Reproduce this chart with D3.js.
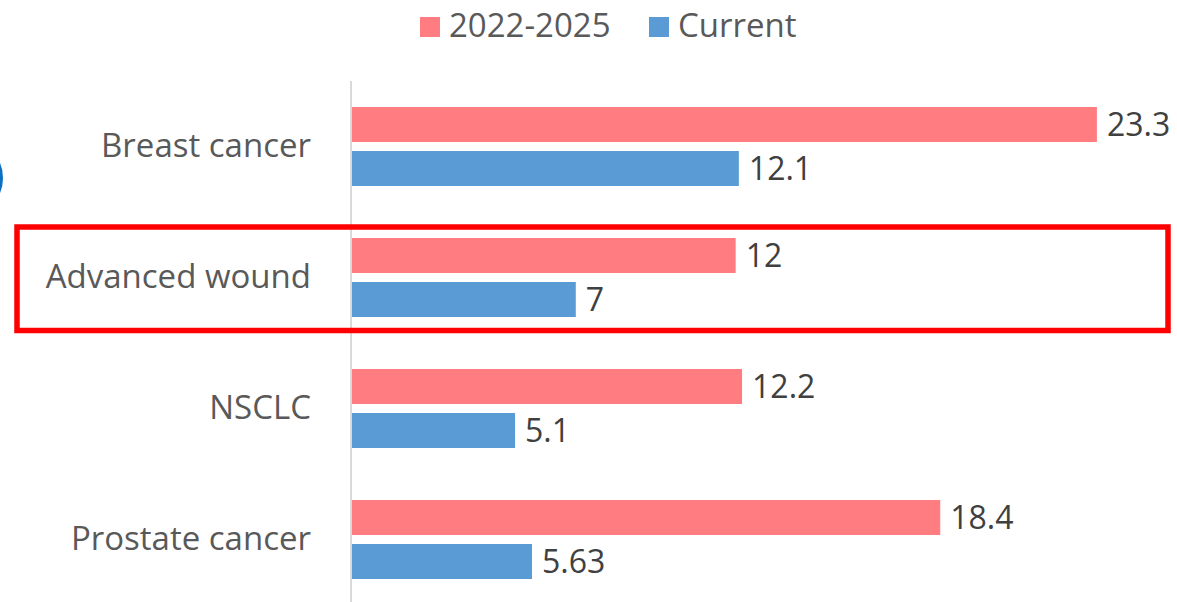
<!DOCTYPE html>
<html>
<head>
<meta charset="utf-8">
<script src="https://cdn.jsdelivr.net/npm/d3@7"></script>
<style>
  html, body { margin: 0; padding: 0; background: #fff; }
  svg { display: block; }
  text { font-family: "Open Sans", "Noto Sans", sans-serif; }
</style>
</head>
<body>
<svg id="chart" width="1177" height="602"></svg>
<script>
const categories = ["Breast cancer", "Advanced wound", "NSCLC", "Prostate cancer"];
const seriesNames = ["2022-2025", "Current"];
const values2022 = [23.3, 12, 12.2, 18.4];
const valuesCurrent = [12.1, 7, 5.1, 5.63];
const valueLabels2022 = ["23.3", "12", "12.2", "18.4"];
const valueLabelsCurrent = ["12.1", "7", "5.1", "5.63"];
const colors = ["#FF7C80", "#5B9BD5"];
const highlighted = "Advanced wound";

const svg = d3.select("#chart");

const x = d3.scaleLinear().domain([0, 25]).range([352, 352 + 25 * 31.97]);
const y0 = d3.scaleBand().domain(categories).range([81, 605]).padding(0);
const y1 = d3.scaleBand().domain(seriesNames).range([26, 105]).paddingInner(0.2045);

const rows = categories.map((c, i) => ({
  cat: c,
  bars: [
    { s: seriesNames[0], v: values2022[i], lab: valueLabels2022[i], col: colors[0] },
    { s: seriesNames[1], v: valuesCurrent[i], lab: valueLabelsCurrent[i], col: colors[1] }
  ]
}));

// decorative blue ring at left edge
svg.append("circle").attr("cx", -36).attr("cy", 178).attr("r", 37.5)
  .attr("fill", "none").attr("stroke", "#0B70C4").attr("stroke-width", 3);

// axis line
svg.append("line").attr("x1", 351).attr("x2", 351).attr("y1", 81).attr("y2", 602)
  .attr("stroke", "#D9D9D9").attr("stroke-width", 2);

const g = svg.selectAll("g.row").data(rows).enter().append("g")
  .attr("class", "row")
  .attr("transform", d => `translate(0,${y0(d.cat)})`);

g.selectAll("rect").data(d => d.bars).enter().append("rect")
  .attr("x", x(0))
  .attr("y", d => y1(d.s))
  .attr("width", d => x(d.v) - x(0))
  .attr("height", y1.bandwidth())
  .attr("fill", d => d.col);

g.selectAll("text.val").data(d => d.bars).enter().append("text")
  .attr("class", "val")
  .attr("x", d => x(d.v) + 10)
  .attr("y", d => y1(d.s) + y1.bandwidth() / 2)
  .attr("dy", "0.36em")
  .attr("font-size", 32)
  .attr("fill", "#404040")
  .text(d => d.lab);

g.append("text")
  .attr("x", 311)
  .attr("y", y0.bandwidth() / 2)
  .attr("dy", "0.33em")
  .attr("text-anchor", "end")
  .attr("font-size", 33)
  .attr("fill", "#595959")
  .text(d => d.cat);

// highlight box
const hb = y0(highlighted);
svg.append("rect")
  .attr("x", 17).attr("y", hb + 15)
  .attr("width", 1151).attr("height", y0.bandwidth() - 27.5)
  .attr("fill", "none").attr("stroke", "#FF0000").attr("stroke-width", 5.5);

// legend
const legendX = [420, 649];
const lg = svg.selectAll("g.leg").data(seriesNames).enter().append("g")
  .attr("class", "leg")
  .attr("transform", (d, i) => `translate(${legendX[i]},17)`);
lg.append("rect").attr("width", 20).attr("height", 20).attr("fill", (d, i) => colors[i]);
lg.append("text").attr("x", 29).attr("y", 8).attr("dy", "0.36em")
  .attr("font-size", 33).attr("fill", "#595959").text(d => d);
</script>
</body>
</html>
